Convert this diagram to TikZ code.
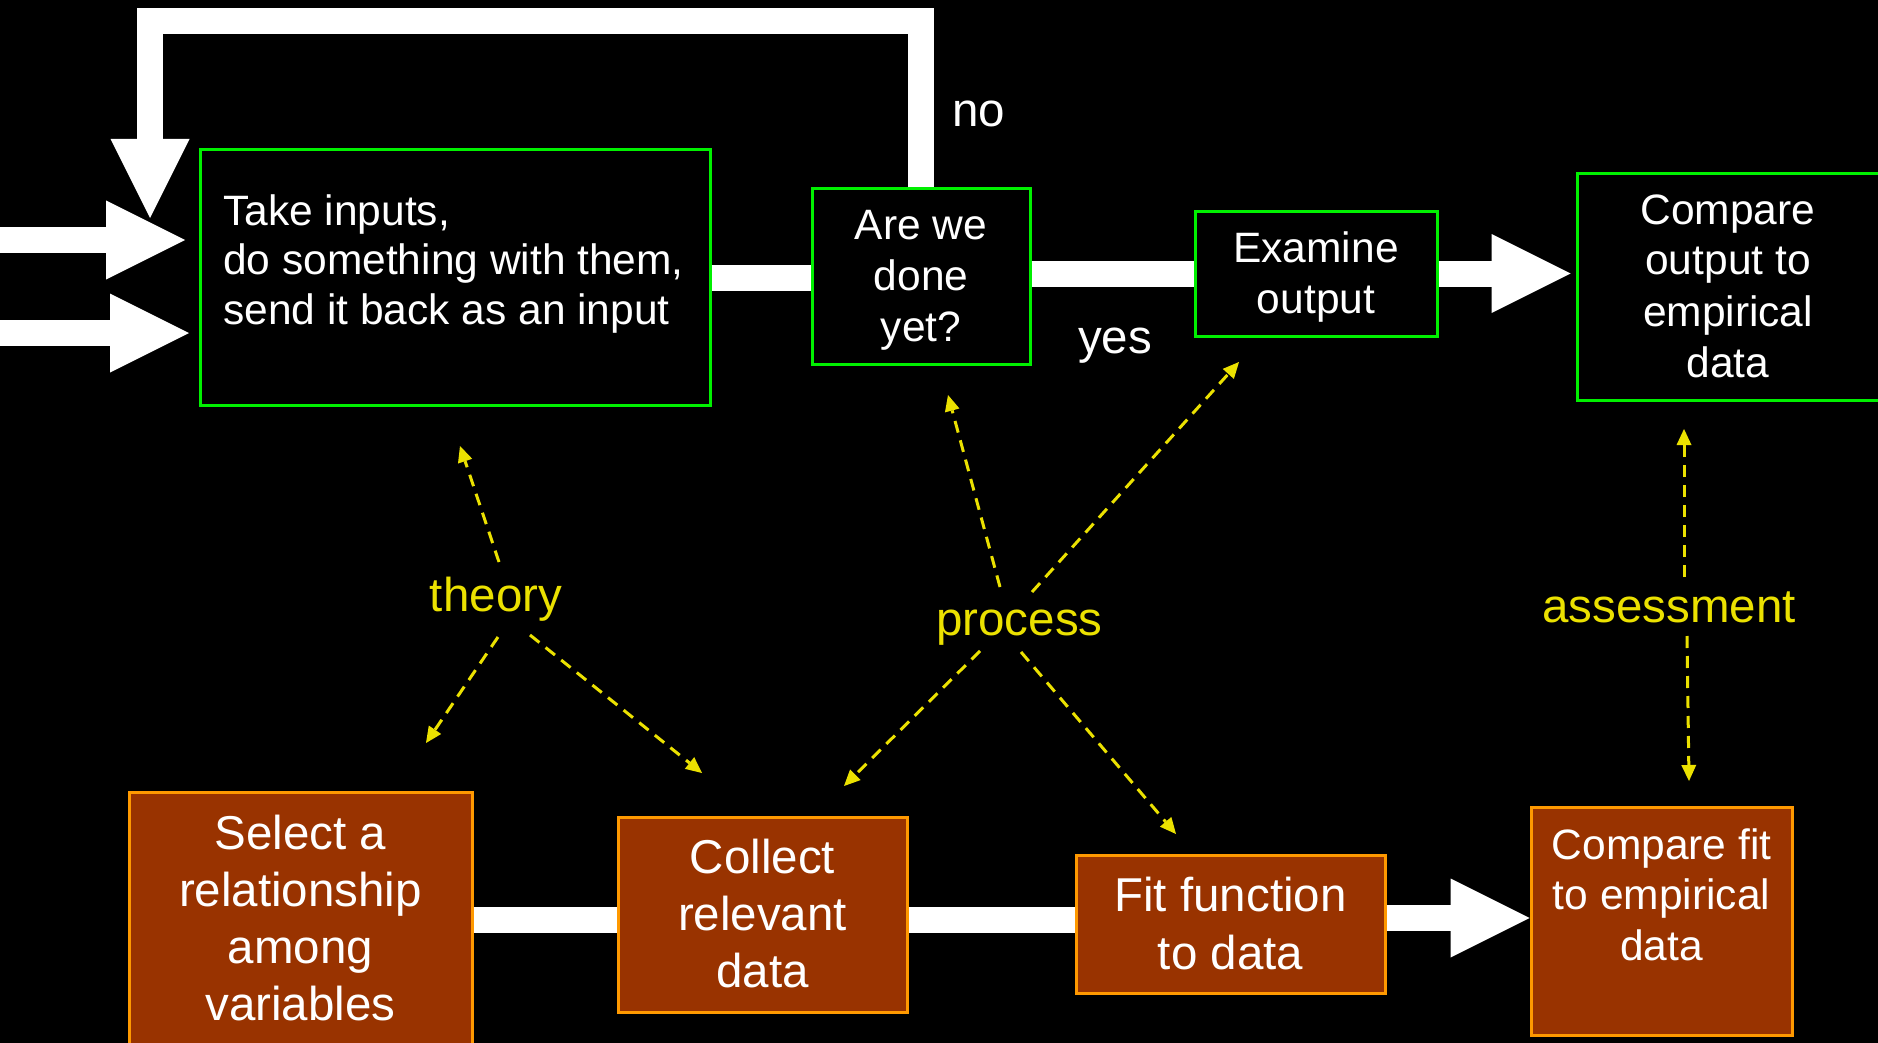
\documentclass[tikz,border=0pt]{standalone}
\usepackage{fontspec}
\setmainfont{Liberation Sans}
\usetikzlibrary{arrows.meta}

\definecolor{boxgreen}{RGB}{0,240,0}
\definecolor{stepfill}{RGB}{153,51,0}
\definecolor{stepedge}{RGB}{255,153,0}
\definecolor{notecol}{RGB}{235,225,0}

% stacked lines whose baseline is the first line's baseline
\newcommand{\linesof}[2]{\begin{tabular}[t]{@{}#1@{}}#2\end{tabular}}
\newcommand{\smallface}[1]{\fontsize{42.5}{#1}\selectfont}
\newcommand{\largeface}[1]{\fontsize{47.5}{#1}\selectfont}

\begin{document}
\begin{tikzpicture}[x=1pt,y=-1pt,
  gbox/.style={draw=boxgreen, line width=3pt, fill=black, inner sep=0pt},
  obox/.style={draw=stepedge, line width=3pt, fill=stepfill, inner sep=0pt},
  txt/.style={text=white, inner sep=0pt, anchor=base},
  note/.style={text=notecol, inner sep=0pt, anchor=base, font=\largeface{57}},
  flow/.style={draw=white, line width=26pt, line join=miter},
  bigtip/.style={-{Triangle[length=79pt,width=79pt,line width=0pt]}},
  hint/.style={draw=notecol, line width=3pt, dash pattern=on 12pt off 8pt,
    -{Triangle[length=16pt,width=15pt,line width=0pt]}}
]
\fill[black] (0,0) rectangle (1878,1043);
\useasboundingbox (0,0) rectangle (1878,1043);

% ---- upper row: the iterative process
\node[gbox, minimum width=510pt, minimum height=255pt] (b1) at (455,277.5) {};
\node[gbox, minimum width=218pt, minimum height=175pt] (b2) at (921,276.5) {};
\node[gbox, minimum width=242pt, minimum height=125pt] (b3) at (1316,273.5) {};
\node[gbox, minimum width=313pt, minimum height=226pt] (b4) at (1733.5,287) {};

\node[txt, anchor=base west] (b1t) at (223,225)
  {\smallface{50}\linesof{l}{Take inputs,\\do something with them,\\send it back as an input}};
\node[txt] (b2t) at (921,239) {\smallface{51}\linesof{c}{Are we\\done\\yet?}};
\node[txt] (b3t) at (1316,262) {\smallface{51}\linesof{c}{Examine\\output}};
\node[txt] (b4t) at (1728,224) {\smallface{51}\linesof{c}{Compare\\output to\\empirical\\data}};

% ---- lower row: fitting a model
\node[obox, minimum width=343pt, minimum height=256pt] (sel) at (300.5,920) {};
\node[obox, minimum width=289pt, minimum height=195pt] (col) at (762.5,914.5) {};
\node[obox, minimum width=309pt, minimum height=138pt] (fit) at (1230.5,924) {};
\node[obox, minimum width=261pt, minimum height=228pt] (cf) at (1661.5,921) {};

\node[txt] (selt) at (300.5,849) {\largeface{57.3}\linesof{c}{Select a\\relationship\\among\\variables}};
\node[txt] (colt) at (762.5,873) {\largeface{57}\linesof{c}{Collect\\relevant\\data}};
\node[txt] (fitt) at (1230.5,911) {\largeface{58}\linesof{c}{Fit function\\to data}};
\node[txt] (cft) at (1661.5,859) {\smallface{50.5}\linesof{c}{Compare fit\\to empirical\\data}};

% ---- white flow connectors
\coordinate (in1s) at (-5,240);
\coordinate (in1e) at (185,240);
\coordinate (in2s) at (-5,333);
\coordinate (in2e) at (189,333);
\draw[flow, bigtip] (in1s) -- (in1e);
\draw[flow, bigtip] (in2s) -- (in2e);

\draw[flow] (b1.east) -- (b1.east -| b2.west);
\draw[flow] (b2.east |- b3.west) -- (b3.west);
\draw[flow, bigtip, shorten >=5pt] (b3.east) -- (b4.west |- b3.east);

\coordinate (fbtop) at (150,21);
\coordinate (fbend) at (150,218);
\draw[flow, bigtip] (b2.north) |- (fbtop) -- (fbend);

\draw[flow] (sel.east) -- (sel.east -| col.west);
\draw[flow] (col.east |- sel.east) -- (fit.west |- sel.east);
\draw[flow, bigtip] (fit.east |- 0,918) -- (cf.west |- 0,918);

% ---- branch labels
\node[txt, font=\largeface{57}] (no) at (978.5,127) {no};
\node[txt, font=\largeface{57}] (yes) at (1115,353) {yes};

% ---- yellow annotations
\node[note] (theory) at (496,611) {theory};
\node[note] (process) at (1019.5,635) {process};
\node[note] (assess) at (1669,622) {assessment};

\coordinate (t1s) at (499,562);  \coordinate (t1e) at (460,446);
\coordinate (t2s) at (498,637);  \coordinate (t2e) at (426,743);
\coordinate (t3s) at (530,635);  \coordinate (t3e) at (702,773);
\draw[hint] (t1s) -- (t1e);
\draw[hint] (t2s) -- (t2e);
\draw[hint] (t3s) -- (t3e);

\coordinate (p1s) at (1000,587); \coordinate (p1e) at (948,395);
\coordinate (p2s) at (1032,592); \coordinate (p2e) at (1239,362);
\coordinate (p3s) at (980,651);  \coordinate (p3e) at (844,786);
\coordinate (p4s) at (1021,652); \coordinate (p4e) at (1176,834);
\draw[hint] (p1s) -- (p1e);
\draw[hint] (p2s) -- (p2e);
\draw[hint] (p3s) -- (p3e);
\draw[hint] (p4s) -- (p4e);

\coordinate (a1s) at (1684,577); \coordinate (a1e) at (1684,429);
\coordinate (a2s) at (1687,636); \coordinate (a2e) at (1689,781);
\draw[hint] (a1s) -- (a1e);
\draw[hint] (a2s) -- (a2e);
\end{tikzpicture}
\end{document}
